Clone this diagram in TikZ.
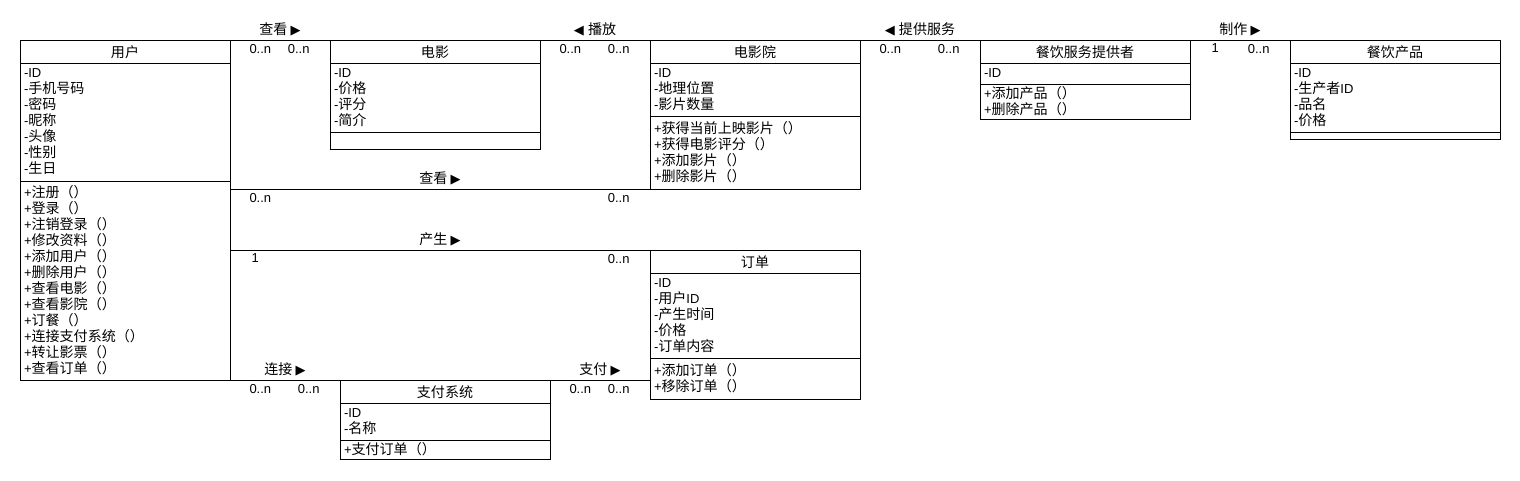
\documentclass[tikz,border=0pt]{standalone}
\usepackage{fontspec}
\setmainfont{Liberation Sans}
\newfontfamily\cjkfont{Noto Sans CJK SC}[Scale=1.08]
\newfontfamily\symfont{DejaVu Sans}
\usetikzlibrary{positioning}

% switch fonts between Latin, Chinese and arrow marks
\newXeTeXintercharclass\zhclass
\newXeTeXintercharclass\symclass
\count255="4E00
\loop
    \XeTeXcharclass\count255=\zhclass
    \advance\count255 by 1
\ifnum\count255<"A000 \repeat
\XeTeXcharclass"FF08=\zhclass
\XeTeXcharclass"FF09=\zhclass
\XeTeXcharclass"25B6=\symclass
\XeTeXcharclass"25C0=\symclass
\XeTeXinterchartoks 4095 0 = {\rmfamily}
\XeTeXinterchartoks 4095 \zhclass = {\cjkfont}
\XeTeXinterchartoks 4095 \symclass = {\symfont}
\XeTeXinterchartoks 0 \zhclass = {\cjkfont}
\XeTeXinterchartoks \zhclass 0 = {\rmfamily}
\XeTeXinterchartoks 0 \symclass = {\symfont}
\XeTeXinterchartoks \symclass 0 = {\rmfamily}
\XeTeXinterchartoks \zhclass \symclass = {\symfont}
\XeTeXinterchartoks \symclass \zhclass = {\cjkfont}
\XeTeXinterchartokenstate=1

\begin{document}
\begin{tikzpicture}[
        x = 1pt, y = -1pt,
        line width = 1pt,
        txt/.style = {font = \fontsize{13}{16}\selectfont},
        box/.style = {txt, draw, outer sep = 0pt, inner sep = 0pt, minimum width = 210pt},
        head/.style = {box, anchor = north west, minimum height = 23pt, text height = 12pt, text depth = 0pt},
        part/.style = {box, text width = 202pt, align = left, inner xsep = 4pt},
        lbl/.style = {txt, inner sep = 0pt}
    ]
        \useasboundingbox (0, 0) rectangle (1520, 480);

        % classes
        \node[head] (user) at (20, 40) {用户};
        \node[part, below = 0pt of user, minimum height = 118pt] (user-a)
            {-ID\\-手机号码\\-密码\\-昵称\\-头像\\-性别\\-生日};
        \node[part, below = 0pt of user-a, minimum height = 199pt] (user-m)
            {+注册（）\\+登录（）\\+注销登录（）\\+修改资料（）\\+添加用户（）\\+删除用户（）\\+查看电影（）\\+查看影院（）\\+订餐（）\\+连接支付系统（）\\+转让影票（）\\+查看订单（）};

        \node[head] (movie) at (330, 40) {电影};
        \node[part, below = 0pt of movie, minimum height = 69pt] (movie-a) {-ID\\-价格\\-评分\\-简介};
        \node[part, below = 0pt of movie-a, minimum height = 17pt] (movie-m) {};

        \node[head] (cinema) at (650, 40) {电影院};
        \node[part, below = 0pt of cinema, minimum height = 53pt] (cinema-a) {-ID\\-地理位置\\-影片数量};
        \node[part, below = 0pt of cinema-a, minimum height = 73pt] (cinema-m)
            {+获得当前上映影片（）\\+获得电影评分（）\\+添加影片（）\\+删除影片（）};

        \node[head] (provider) at (980, 40) {餐饮服务提供者};
        \node[part, below = 0pt of provider, minimum height = 21pt] (provider-a) {-ID};
        \node[part, below = 0pt of provider-a, minimum height = 35pt] (provider-m) {+添加产品（）\\+删除产品（）};

        \node[head] (food) at (1290, 40) {餐饮产品};
        \node[part, below = 0pt of food, minimum height = 69pt] (food-a) {-ID\\-生产者ID\\-品名\\-价格};
        \node[part, below = 0pt of food-a, minimum height = 7pt] (food-m) {};

        \node[head] (order) at (650, 250) {订单};
        \node[part, below = 0pt of order, minimum height = 85pt] (order-a)
            {-ID\\-用户ID\\-产生时间\\-价格\\-订单内容};
        \node[part, below = 0pt of order-a, minimum height = 41pt] (order-m) {+添加订单（）\\+移除订单（）};

        \node[head] (pay) at (340, 380) {支付系统};
        \node[part, below = 0pt of pay, minimum height = 37pt] (pay-a) {-ID\\-名称};
        \node[part, below = 0pt of pay-a, minimum height = 19pt] (pay-m) {+支付订单（）};

        % associations
        \draw (user.north east) -- (movie.north west)
            node[lbl, midway, above = 3pt] {查看 ▶}
            node[lbl, pos = 0, below right = 3.5pt and 19pt] {0..n}
            node[lbl, pos = 1, below left = 3.5pt and 20pt] {0..n};
        \draw (movie.north east) -- (cinema.north west)
            node[lbl, midway, above = 3pt] {◀ 播放}
            node[lbl, pos = 0, below right = 3.5pt and 19pt] {0..n}
            node[lbl, pos = 1, below left = 3.5pt and 20pt] {0..n};
        \draw (cinema.north east) -- (provider.north west)
            node[lbl, midway, above = 3pt] {◀ 提供服务}
            node[lbl, pos = 0, below right = 3.5pt and 19pt] {0..n}
            node[lbl, pos = 1, below left = 3.5pt and 20pt] {0..n};
        \draw (provider.north east) -- (food.north west)
            node[lbl, midway, above = 3pt] {制作 ▶}
            node[lbl, pos = 0, below right = 3.5pt and 21pt] {1}
            node[lbl, pos = 1, below left = 3.5pt and 20pt] {0..n};
        \draw (user-m.east |- cinema-m.south) -- (cinema-m.south west)
            node[lbl, midway, above = 3pt] {查看 ▶}
            node[lbl, pos = 0, below right = 3.5pt and 19pt] {0..n}
            node[lbl, pos = 1, below left = 3.5pt and 20pt] {0..n};
        \draw (user-m.east |- order.north) -- (order.north west)
            node[lbl, midway, above = 3pt] {产生 ▶}
            node[lbl, pos = 0, below right = 3.5pt and 21pt] {1}
            node[lbl, pos = 1, below left = 3.5pt and 20pt] {0..n};
        \draw (user-m.south east) -- (pay.north west)
            node[lbl, midway, above = 3pt] {连接 ▶}
            node[lbl, pos = 0, below right = 3.5pt and 19pt] {0..n}
            node[lbl, pos = 1, below left = 3.5pt and 20pt] {0..n};
        \draw (pay.north east) -- (pay.north east -| order-a.west)
            node[lbl, midway, above = 3pt] {支付 ▶}
            node[lbl, pos = 0, below right = 3.5pt and 19pt] {0..n}
            node[lbl, pos = 1, below left = 3.5pt and 20pt] {0..n};
    \end{tikzpicture}
\end{document}
